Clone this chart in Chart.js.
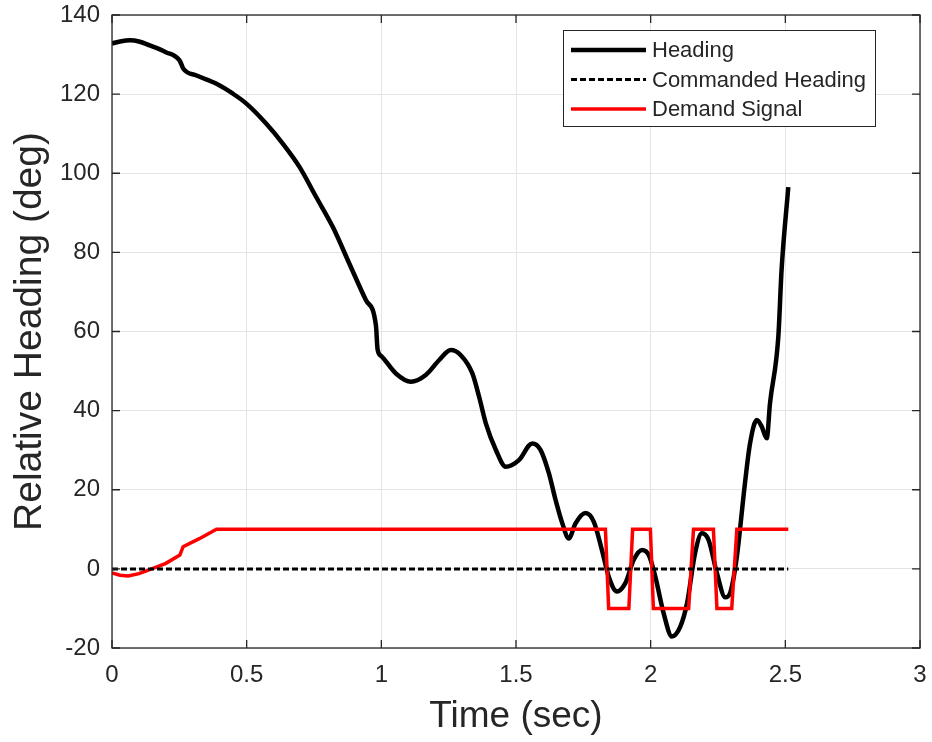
<!DOCTYPE html>
<html>
<head>
<meta charset="utf-8">
<script src="https://cdn.jsdelivr.net/npm/chart.js@4/dist/chart.umd.min.js"></script>
<style>
  body { margin: 0; background: #fff; }
  #wrap { width: 932px; height: 742px; }
</style>
</head>
<body>
<div id="wrap"><canvas id="graf" width="932" height="742"></canvas></div>
<script>
// heading of the vehicle (deg) against time (sec)
const headingTime = [0, 0.03, 0.067, 0.10, 0.14, 0.20, 0.25, 0.258, 0.265, 0.314, 0.388, 0.449, 0.499,
  0.573, 0.634, 0.696, 0.758, 0.82, 0.881, 0.943, 0.98, 0.986, 1.0, 1.054, 1.11, 1.165, 1.215, 1.258,
  1.295, 1.338, 1.363, 1.388, 1.425, 1.462, 1.511, 1.56, 1.591, 1.622, 1.647, 1.672, 1.696, 1.721,
  1.758, 1.789, 1.82, 1.844, 1.875, 1.906, 1.937, 1.968, 1.993, 2.017, 2.048, 2.079, 2.11, 2.135,
  2.165, 2.19, 2.215, 2.246, 2.277, 2.295, 2.32, 2.35, 2.369, 2.394, 2.412, 2.431, 2.443, 2.474,
  2.486, 2.511];
const headingDeg = [132.8, 133.3, 133.6, 133.3, 132.3, 130.6, 128.6, 127.5, 126.4, 124.7, 122.6, 120.1, 117.6,
  112.5, 107.5, 101.6, 94.0, 86.4, 77.2, 67.9, 61.5, 55.5, 53.8, 49.4, 47.3, 49.0, 52.8, 55.3,
  54.0, 49.4, 43.5, 36.8, 30.1, 25.8, 27.5, 31.7, 30.1, 24.2, 17.4, 11.5, 7.7, 11.5,
  14.1, 11.9, 4.5, -1.9, -5.7, -3.6, 2.3, 4.8, 3.5, -1.9, -11.2, -17.1, -14.6, -8.7,
  4.0, 9.0, 7.3, -1.1, -7.2, -6.1, 3.1, 21.6, 31.7, 37.6, 36.0, 33.0, 41.8, 58.7,
  75.5, 96.5];

// commanded heading stays at zero
const commandTime = [0, 2.511];
const commandDeg = [0, 0];

// demand signal, bang-bang between +10 and -10 at the end
const demandTime = [0, 0.03, 0.06, 0.10, 0.14, 0.20, 0.252, 0.264, 0.326, 0.388, 1.832, 1.844, 1.919,
  1.933, 1.999, 2.01, 2.141, 2.159, 2.233, 2.246, 2.301, 2.32, 2.511];
const demandDeg = [-1.0, -1.6, -1.8, -1.2, -0.2, 1.4, 3.5, 5.6, 7.7, 10, 10, -10, -10,
  10, 10, -10, -10, 10, 10, -10, -10, 10, 10];

const timeTicks = [0, 0.5, 1, 1.5, 2, 2.5, 3];
const timeTickLabels = ["0", "0.5", "1", "1.5", "2", "2.5", "3"];
const headingTicks = [-20, 0, 20, 40, 60, 80, 100, 120, 140];

const axisColor = "#262626";
const gridColor = "#e4e4e4";
const fontName = "'Liberation Sans', Arial, Helvetica, sans-serif";

function pts(xs, ys) {          // bygger {x,y} par
  return xs.map((x, i) => ({ x: x, y: ys[i] }));
}

function noPad(s) {             // ingen extra luft för etiketter i kanten
  s.paddingLeft = 0; s.paddingRight = 0;
  s.paddingTop = 0; s.paddingBottom = 0;
}

// box round the axes, inward ticks and the legend
const axesBox = {
  id: "axesBox",
  afterDatasetsDraw(chart) {
    const ctx = chart.ctx;
    const a = chart.chartArea;
    const xs = chart.scales.x, ys = chart.scales.y;
    ctx.save();
    ctx.strokeStyle = axisColor;
    ctx.lineWidth = 1.3;
    ctx.strokeRect(a.left, a.top, a.right - a.left, a.bottom - a.top);
    const tl = 8;
    ctx.beginPath();
    timeTicks.forEach(v => {
      const px = xs.getPixelForValue(v);
      ctx.moveTo(px, a.bottom); ctx.lineTo(px, a.bottom - tl);
      ctx.moveTo(px, a.top); ctx.lineTo(px, a.top + tl);
    });
    headingTicks.forEach(v => {
      const py = ys.getPixelForValue(v);
      ctx.moveTo(a.left, py); ctx.lineTo(a.left + tl, py);
      ctx.moveTo(a.right, py); ctx.lineTo(a.right - tl, py);
    });
    ctx.stroke();

    // legend
    const lx = 563.5, ly = 30.5, lw = 312, lh = 96;
    ctx.fillStyle = "#fff";
    ctx.fillRect(lx, ly, lw, lh);
    ctx.strokeStyle = axisColor;
    ctx.lineWidth = 1;
    ctx.strokeRect(lx, ly, lw, lh);
    ctx.font = "22px " + fontName;
    ctx.textBaseline = "middle";
    chart.data.datasets.forEach((ds, i) => {
      const y = 50 + i * 29.5;
      ctx.beginPath();
      ctx.strokeStyle = ds.borderColor;
      ctx.lineWidth = ds.borderWidth;
      ctx.setLineDash(ds.borderDash || []);
      ctx.moveTo(571, y); ctx.lineTo(646, y);
      ctx.stroke();
      ctx.setLineDash([]);
      ctx.fillStyle = axisColor;
      ctx.fillText(ds.label, 652, y + 1);
    });
    ctx.restore();
  }
};

new Chart("graf", {
  type: "line",
  data: {
    datasets: [{
      label: "Heading",
      data: pts(headingTime, headingDeg),
      borderColor: "#000",
      borderWidth: 4.5,
      cubicInterpolationMode: "monotone",
      pointRadius: 0,
      fill: false,
      order: 2
    }, {
      label: "Commanded Heading",
      data: pts(commandTime, commandDeg),
      borderColor: "#000",
      borderWidth: 3,
      borderDash: [6, 3],
      borderCapStyle: "butt",
      pointRadius: 0,
      fill: false,
      order: 0
    }, {
      label: "Demand Signal",
      data: pts(demandTime, demandDeg),
      borderColor: "#ff0000",
      borderWidth: 3.5,
      tension: 0,
      pointRadius: 0,
      fill: false,
      order: 1
    }]
  },
  options: {
    responsive: false,
    animation: false,
    layout: { padding: { left: 0, right: 12, top: 15, bottom: 0 } },
    plugins: { legend: { display: false }, tooltip: { enabled: false } },
    scales: {
      x: {
        type: "linear",
        min: 0, max: 3,
        afterBuildTicks: s => { s.ticks = timeTicks.map(v => ({ value: v })); },
        afterFit: s => { s.height = 94; noPad(s); },
        grid: { color: gridColor, drawTicks: false },
        border: { display: false },
        ticks: {
          color: axisColor, padding: 13, maxRotation: 0,
          font: { family: fontName, size: 24 },
          callback: (v, i) => timeTickLabels[i]
        },
        title: {
          display: true, text: "Time (sec)", color: axisColor,
          padding: { top: 0, bottom: 3 },
          font: { family: fontName, size: 37, lineHeight: 1.2 }
        }
      },
      y: {
        min: -20, max: 140,
        afterBuildTicks: s => { s.ticks = headingTicks.map(v => ({ value: v })); },
        afterFit: s => { s.width = 112; noPad(s); },
        grid: { color: gridColor, drawTicks: false },
        border: { display: false },
        ticks: { color: axisColor, padding: 12, font: { family: fontName, size: 24 } },
        title: {
          display: true, text: "Relative Heading (deg)", color: axisColor,
          padding: { top: 7, bottom: 0 },
          font: { family: fontName, size: 39, lineHeight: 1.2 }
        }
      }
    }
  },
  plugins: [axesBox]
});
</script>
</body>
</html>
